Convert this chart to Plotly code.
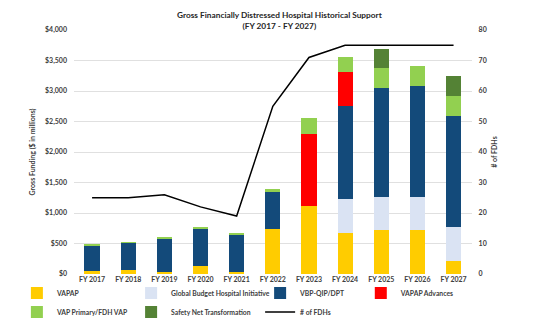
import plotly.graph_objects as go
from plotly.subplots import make_subplots

years = ["FY 2017", "FY 2018", "FY 2019", "FY 2020", "FY 2021", "FY 2022",
         "FY 2023", "FY 2024", "FY 2025", "FY 2026", "FY 2027"]
vapap = [55, 60, 38, 126, 33, 738, 1119, 677, 714, 714, 218]
global_budget = [0, 0, 0, 0, 0, 0, 0, 551, 552, 552, 548]
vbp_qip = [420, 453, 547, 614, 617, 610, 0, 1529, 1791, 1819, 1827]
vapap_adv = [0, 0, 0, 0, 0, 0, 1180, 553, 0, 0, 0]
vap_primary = [8, 8, 28, 25, 18, 45, 251, 255, 328, 323, 323]
safety_net = [0, 0, 0, 0, 0, 0, 0, 0, 306, 0, 333]
fdh_count = [25, 25, 26, 22, 19, 55, 71, 75, 75, 75, 75]

FONT = "Lato"
LEG_FONT = dict(family=FONT, size=6.8, color="#404040", weight="bold")
fig = make_subplots(specs=[[{"secondary_y": True}]])

series = [
    ("VAPAP", vapap, "#FFCC00", "legend"),
    ("Global Budget Hospital Initiative", global_budget, "#DAE3F3", "legend2"),
    ("VBP-QIP/DPT", vbp_qip, "#134A7A", "legend3"),
    ("VAPAP Advances", vapap_adv, "#FF0000", "legend4"),
    ("VAP Primary/FDH VAP", vap_primary, "#92D050", "legend"),
    ("Safety Net Transformation", safety_net, "#548235", "legend2"),
]
for name, vals, col, leg in series:
    fig.add_trace(go.Bar(x=years, y=vals, name=name, legend=leg,
                         marker=dict(color=col, line=dict(width=0))),
                  secondary_y=False)

fig.add_trace(go.Scatter(x=years, y=fdh_count, name="# of FDHs", mode="lines", legend="legend3",
                         line=dict(color="#000000", width=1.5)), secondary_y=True)

def leg(xp):
    return dict(orientation="v", x=xp, xref="paper", y=-0.018, yref="paper",
                yanchor="top", xanchor="left", traceorder="normal",
                font=LEG_FONT, itemwidth=30, tracegroupgap=0, bgcolor="rgba(0,0,0,0)")

fig.update_layout(
    barmode="stack",
    bargap=0.58,
    width=542, height=328,
    margin=dict(l=74, r=45, t=30, b=54, autoexpand=False),
    paper_bgcolor="white", plot_bgcolor="white",
    font=dict(family=FONT, size=7, color="#404040", weight="bold"),
    legend=leg(-0.135),
    legend2=leg(0.135),
    legend3=leg(0.44),
    legend4=leg(0.678),
    showlegend=True,
    annotations=[dict(text="<b>Gross Financially Distressed Hospital Historical Support<br>(FY 2017 - FY 2027)</b>",
                      xref="paper", yref="paper", x=0.487, y=1.037, xanchor="center", yanchor="middle",
                      showarrow=False, font=dict(family=FONT, size=8.3, color="#262626"))],
)
fig.update_xaxes(showgrid=False, showline=False, ticks="", tickfont=dict(size=7))
fig.update_yaxes(range=[0, 4000], dtick=500, tickformat="$,.0f", showgrid=True,
                 gridcolor="#E0E0E0", gridwidth=1, zeroline=False, showline=False,
                 ticklabelstandoff=6, tickfont=dict(size=7),
                 title=dict(text="Gross Funding ($ in millions)", font=dict(size=7), standoff=8),
                 secondary_y=False)
fig.update_yaxes(range=[0, 80], dtick=10, showgrid=False, zeroline=False, showline=False,
                 ticklabelstandoff=6, tickfont=dict(size=7),
                 title=dict(text="# of FDHs", font=dict(size=7), standoff=6),
                 secondary_y=True)

fig.write_html("out.html")
